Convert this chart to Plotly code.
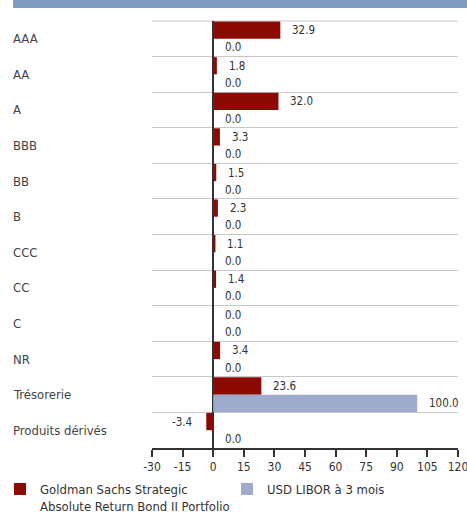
import plotly.graph_objects as go

categories = ["AAA", "AA", "A", "BBB", "BB", "B", "CCC", "CC", "C", "NR",
              "Trésorerie", "Produits dérivés"]
fund_values = [32.9, 1.8, 32.0, 3.3, 1.5, 2.3, 1.1, 1.4, 0.0, 3.4, 23.6, -3.4]
libor_values = [0.0, 0.0, 0.0, 0.0, 0.0, 0.0, 0.0, 0.0, 0.0, 0.0, 100.0, 0.0]
fund_name = "Goldman Sachs Strategic<br>Absolute Return Bond II Portfolio"
libor_name = "USD LIBOR à 3 mois"
x_ticks = [-30, -15, 0, 15, 30, 45, 60, 75, 90, 105, 120]

FONT = "DejaVu Sans Condensed, DejaVu Sans, sans-serif"
RED = "#8b0b04"
BLUE = "#9eabcc"

W, H = 467, 515
ML, MR, MT, MB = 152, 9, 21, 67
PW = W - ML - MR
PH = H - MT - MB


def px_x(p):
    return (p - ML) / PW


def px_y(p):
    return (H - MB - p) / PH


fig = go.Figure()
fig.add_trace(go.Bar(y=categories, x=fund_values, orientation="h", name=fund_name,
                     marker=dict(color=RED, line=dict(width=0)), legend="legend"))
fig.add_trace(go.Bar(y=categories, x=libor_values, orientation="h", name=libor_name,
                     marker=dict(color=BLUE, line=dict(width=0)), legend="legend2"))

annotations = []
for series, shift in ((fund_values, 8.6), (libor_values, -8.6)):
    for cat, v in zip(categories, series):
        annotations.append(dict(
            x=v, y=cat, xref="x", yref="y", text=f"{v:.1f}", showarrow=False,
            xanchor="right" if v < 0 else "left",
            xshift=-12 if v < 0 else 10, yshift=shift,
            font=dict(family=FONT, size=11.5, color="#333333")))

for cat in categories:
    annotations.append(dict(
        x=px_x(13), xref="paper", y=cat, yref="y", text=cat, showarrow=False,
        xanchor="left", xshift=-2, font=dict(family=FONT, size=13, color="#444444")))

legend_common = dict(orientation="v", xanchor="left", yanchor="top", valign="top",
                     font=dict(family=FONT, size=13, color="#333333"),
                     itemclick=False, itemdoubleclick=False, bgcolor="rgba(0,0,0,0)")

fig.update_layout(
    width=W, height=H,
    margin=dict(l=ML, r=MR, t=MT, b=MB, pad=0, autoexpand=False),
    paper_bgcolor="white", plot_bgcolor="white",
    barmode="group", bargap=0.03, bargroupgap=0,
    font=dict(family=FONT, size=13, color="#333333"),
    xaxis=dict(range=[-30, 120], tickvals=x_ticks, ticktext=[str(t) for t in x_ticks],
               showgrid=False, zeroline=True, zerolinecolor="#333333", zerolinewidth=1.5,
               showline=True, linecolor="#333333", linewidth=1.5,
               ticks="outside", ticklen=7, tickwidth=1.5, tickcolor="#333333",
               ticklabeloverflow="allow",
               tickfont=dict(family=FONT, size=12, color="#333333")),
    yaxis=dict(autorange="reversed", showticklabels=False, tickson="boundaries",
               showgrid=True, gridcolor="#c8c8c8", gridwidth=1.2, ticks="",
               zeroline=False, showline=False),
    showlegend=True,
    legend=dict(x=px_x(0), y=px_y(474), **legend_common),
    legend2=dict(x=px_x(227), y=px_y(474), **legend_common),
    shapes=[dict(type="rect", xref="paper", yref="paper",
                 x0=px_x(13), x1=px_x(W),
                 y0=px_y(8), y1=px_y(0),
                 fillcolor="#7f9cc0", line=dict(width=0)),
            dict(type="line", xref="paper", yref="paper", x0=0, x1=1, y0=1, y1=1,
                 line=dict(color="#c8c8c8", width=1.2), layer="below")],
    annotations=annotations,
)

fig.write_html("out.html", config={"displayModeBar": False},
               post_script="document.body.style.margin='0';document.body.style.padding='0';")
